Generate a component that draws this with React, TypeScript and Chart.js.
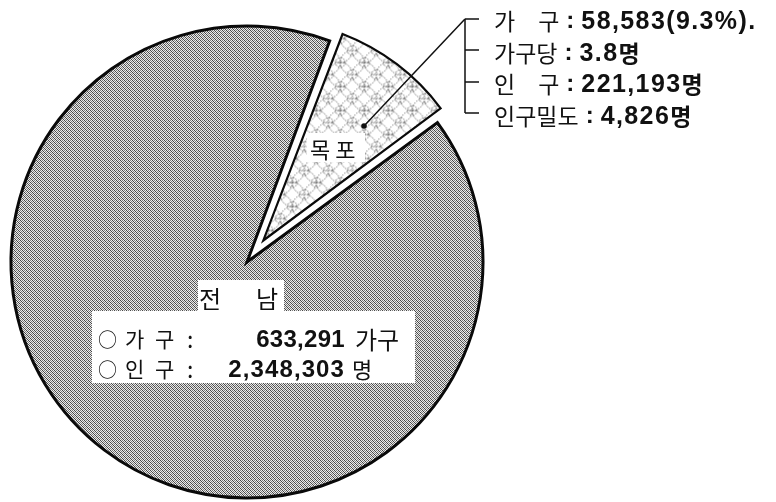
import React, { useEffect, useRef } from "react";
import { Chart, registerables } from "chart.js";

Chart.register(...registerables);

// ---- data ----
const regions = ["목포", "전남(목포 외)"];
const households = [58583, 574708]; // 전남 전체 633,291 가구 중 목포 58,583 가구

const mokpoLabels = ["가　구", "가구당", "인　구", "인구밀도"];
const mokpoNumbers = ["58,583(9.3%).", "3.8", "221,193", "4,826"];
const mokpoUnits = ["", "명", "명", "명"];

const jeonnamTitle = ["전", "남"];
const jeonnamLabels = [["가", "구"], ["인", "구"]];
const jeonnamNumbers = ["633,291", "2,348,303"];
const jeonnamUnits = ["가구", "명"];

const KR = '"Noto Sans CJK KR", "Noto Sans", sans-serif';
const NUM = '"Liberation Sans", Arial, sans-serif';

// fine halftone texture
function makeGrayPattern(): CanvasPattern | string {
  const n = 4;
  const c = document.createElement("canvas");
  c.width = n;
  c.height = n;
  const t = c.getContext("2d");
  if (!t) return "#a8a8a8";
  for (let y = 0; y < n; y++) {
    for (let x = 0; x < n; x++) {
      const dark = (x + y) % 2 === 0;
      const alt = (Math.floor(x / 2) + Math.floor(y / 2)) % 2 === 0;
      t.fillStyle = dark ? (alt ? "#464646" : "#7e7e7e") : alt ? "#e6e6e6" : "#f0f0f0";
      t.fillRect(x, y, 1, 1);
    }
  }
  return t.createPattern(c, "repeat") || "#a8a8a8";
}

function makeCirclePattern(): CanvasPattern | string {
  const s = 24;
  const c = document.createElement("canvas");
  c.width = s;
  c.height = s;
  const t = c.getContext("2d");
  if (!t) return "#ffffff";
  t.fillStyle = "#ffffff";
  t.fillRect(0, 0, s, s);
  t.strokeStyle = "#444444";
  t.lineWidth = 0.9;
  t.setLineDash([1.3, 1.5]);
  const big: number[][] = [[s / 2, 0], [0, s / 2], [s, s / 2], [s / 2, s]];
  big.forEach(([x, y]) => {
    t.beginPath();
    t.arc(x, y, s / 2, 0, Math.PI * 2);
    t.stroke();
  });
  const small: number[][] = [[0, 0], [s, 0], [0, s], [s, s], [s / 2, s / 2]];
  small.forEach(([x, y]) => {
    t.beginPath();
    t.arc(x, y, 4.8, 0, Math.PI * 2);
    t.stroke();
  });
  return t.createPattern(c, "repeat") || "#ffffff";
}

const shrinkPlugin = {
  id: "shrinkExploded",
  beforeDatasetsDraw(chart: any) {
    const meta = chart.getDatasetMeta(0);
    const ctrl: any = meta.controller;
    const arc: any = meta.data[0];
    if (arc && ctrl) arc.outerRadius = ctrl.outerRadius - 27;
  },
};

const leaderPlugin = {
  id: "leader",
  afterDatasetsDraw(chart: any) {
    const ctx = chart.ctx as CanvasRenderingContext2D;
    ctx.save();
    ctx.strokeStyle = "#111";
    ctx.fillStyle = "#111";
    ctx.lineWidth = 1.5;
    ctx.setLineDash([]);
    ctx.beginPath();
    ctx.arc(364, 126, 2.8, 0, Math.PI * 2);
    ctx.fill();
    ctx.beginPath();
    ctx.moveTo(364, 126);
    ctx.lineTo(465, 19);
    ctx.stroke();
    ctx.beginPath();
    ctx.moveTo(465, 19);
    ctx.lineTo(465, 113);
    [19, 50, 82, 113].forEach((y) => {
      ctx.moveTo(465, y);
      ctx.lineTo(479, y);
    });
    ctx.stroke();
    ctx.restore();
  },
};

function Txt(props: {
  x: number;
  cy: number;
  size: number;
  font: string;
  weight?: number | string;
  h?: number;
  right?: boolean;
  ls?: number;
  children: React.ReactNode;
}) {
  const h = props.h ?? Math.round(props.size * 1.3);
  const style: React.CSSProperties = {
    position: "absolute",
    top: props.cy - h / 2,
    height: h,
    lineHeight: `${h}px`,
    fontSize: props.size,
    fontFamily: props.font,
    fontWeight: props.weight ?? 400,
    whiteSpace: "nowrap",
    color: "#111",
    letterSpacing: props.ls ?? 0,
  };
  if (props.right) style.right = 776 - props.x;
  else style.left = props.x;
  return <div style={style}>{props.children}</div>;
}

export default function App() {
  const canvasRef = useRef<HTMLCanvasElement | null>(null);

  useEffect(() => {
    const canvas = canvasRef.current;
    if (!canvas) return;
    const chart = new Chart(canvas, {
      type: "pie",
      data: {
        labels: regions,
        datasets: [
          {
            data: households,
            backgroundColor: [makeCirclePattern(), makeGrayPattern()] as any,
            borderColor: "#0a0a0a",
            borderWidth: [2.2, 3],
            borderJoinStyle: "miter",
            offset: [108, 0],
          } as any,
        ],
      },
      options: {
        responsive: false,
        animation: false,
        events: [],
        rotation: 20.5,
        radius: 236,
        layout: { padding: { left: 0, right: 282, top: 22, bottom: 0 } },
        plugins: { legend: { display: false }, tooltip: { enabled: false } },
      } as any,
      plugins: [shrinkPlugin, leaderPlugin],
    });
    return () => chart.destroy();
  }, []);

  const rightCy = [20, 52, 83, 115];

  return (
    <div style={{ position: "absolute", left: 0, top: 0, width: 776, height: 502, background: "#fff", overflow: "hidden" }}>
      <canvas ref={canvasRef} width={776} height={502} style={{ position: "absolute", left: 0, top: 0, width: 776, height: 502 }} />

      {/* 목포 annotation */}
      {mokpoLabels.map((lab, i) => (
        <div
          key={lab}
          style={{
            position: "absolute",
            left: 494,
            top: rightCy[i] - 15,
            height: 30,
            lineHeight: "30px",
            whiteSpace: "nowrap",
            color: "#111",
            display: "flex",
            alignItems: "center",
          }}
        >
          <span style={{ fontFamily: KR, fontSize: 23 }}>{lab}</span>
          <span style={{ fontFamily: NUM, fontSize: 24, fontWeight: 700, margin: "0 7px 0 7px" }}>:</span>
          <span style={{ fontFamily: NUM, fontSize: 25, fontWeight: 700, letterSpacing: 1.4 }}>{mokpoNumbers[i]}</span>
          <span style={{ fontFamily: KR, fontSize: 23, fontWeight: 700 }}>{mokpoUnits[i]}</span>
        </div>
      ))}

      {/* 목포 label */}
      <div style={{ position: "absolute", left: 307, top: 133, width: 58, height: 29, background: "#fff" }} />
      <Txt x={310} cy={148} size={22} font={KR} ls={5}>
        목포
      </Txt>

      {/* 전남 label */}
      <div style={{ position: "absolute", left: 198, top: 280, width: 86, height: 32, background: "#fff" }} />
      <Txt x={199} cy={297} size={24} font={KR}>
        {jeonnamTitle[0]}
      </Txt>
      <Txt x={256} cy={297} size={24} font={KR}>
        {jeonnamTitle[1]}
      </Txt>
      <div style={{ position: "absolute", left: 92, top: 311, width: 323, height: 72, background: "#fff" }} />
      {jeonnamLabels.map((lab, i) => {
        const cy = i === 0 ? 338 : 368;
        return (
          <React.Fragment key={i}>
            <Txt x={98} cy={cy} size={19} font={KR}>
              ○
            </Txt>
            <Txt x={125} cy={cy} size={21} font={KR}>
              {lab[0]}
            </Txt>
            <Txt x={155} cy={cy} size={21} font={KR}>
              {lab[1]}
            </Txt>
            <Txt x={187} cy={cy} size={23} font={KR}>
              :
            </Txt>
            <Txt x={345} cy={cy} size={24} font={NUM} weight={700} right ls={i === 0 ? 0.3 : 1.1}>
              {jeonnamNumbers[i]}
            </Txt>
            <Txt x={i === 0 ? 355 : 352} cy={cy} size={i === 0 ? 24 : 22} font={KR}>
              {jeonnamUnits[i]}
            </Txt>
          </React.Fragment>
        );
      })}
    </div>
  );
}
